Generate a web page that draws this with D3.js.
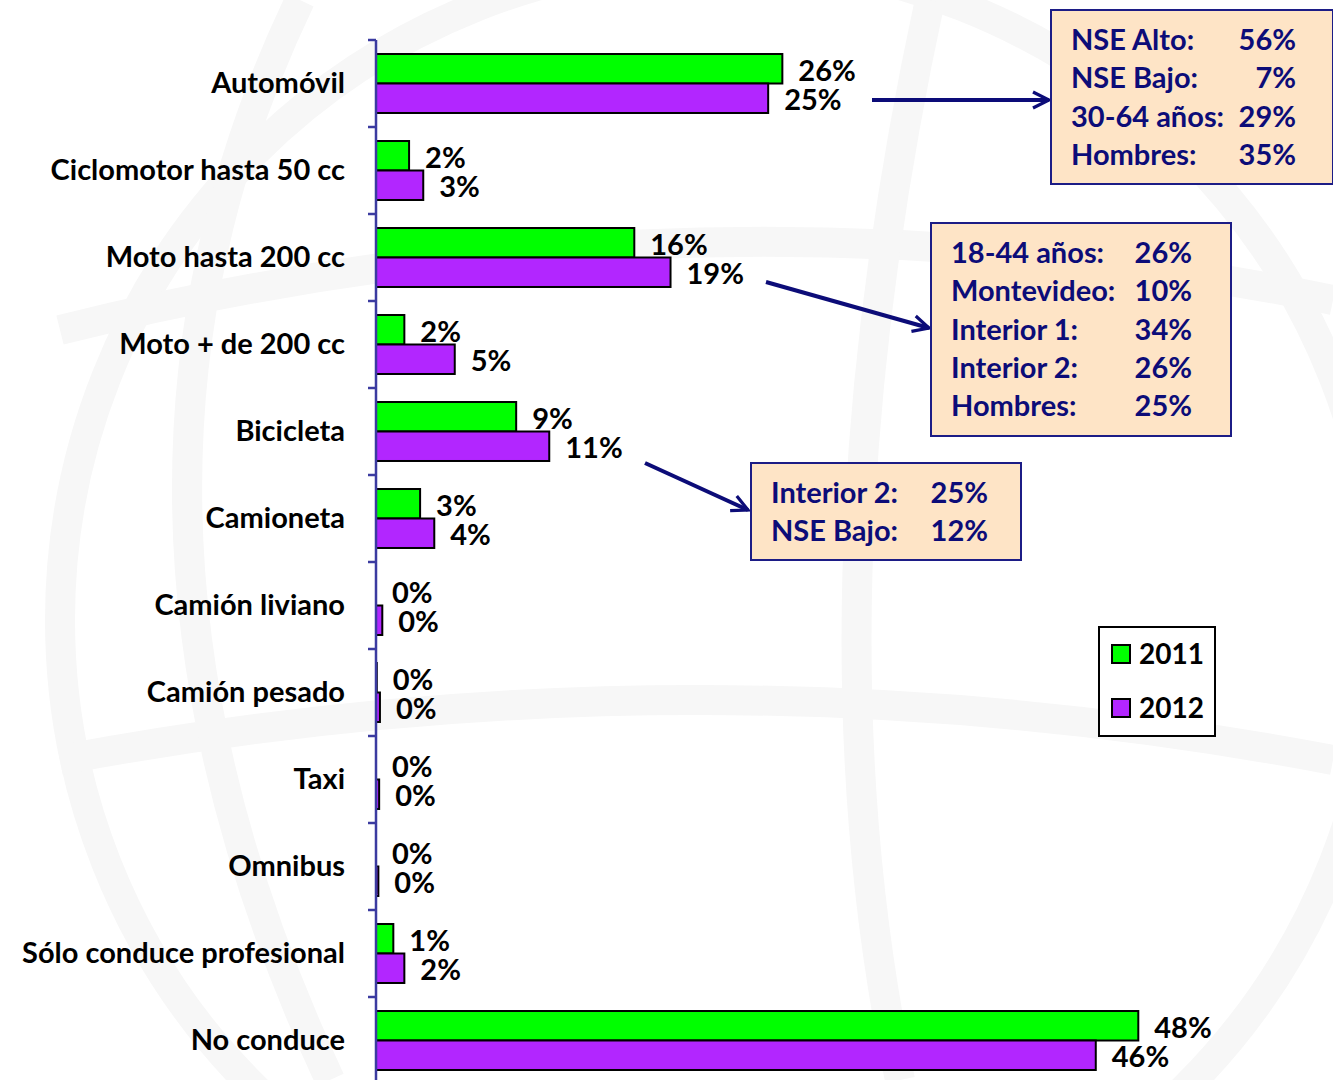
<!DOCTYPE html>
<html>
<head>
<meta charset="utf-8">
<script src="https://cdn.jsdelivr.net/npm/d3@7"></script>
<style>
  body { margin: 0; background: #fff; }
  svg { display: block; font-family: Lato, "Open Sans", sans-serif; font-weight: bold; }
</style>
</head>
<body>
<script>
// categories and values (percent)
var categories = ["Automóvil", "Ciclomotor hasta 50 cc", "Moto hasta 200 cc", "Moto + de 200 cc",
    "Bicicleta", "Camioneta", "Camión liviano", "Camión pesado", "Taxi", "Omnibus",
    "Sólo conduce profesional", "No conduce"];
var years = ["2011", "2012"];
var values2011 = [25.8, 2.1, 16.4, 1.8, 8.9, 2.8, 0, 0.05, 0, 0, 1.1, 48.4];
var values2012 = [24.9, 3.0, 18.7, 5.0, 11.0, 3.7, 0.4, 0.25, 0.2, 0.15, 1.8, 45.7];

// call-out boxes
var box1Labels = ["NSE Alto:", "NSE Bajo:", "30-64 años:", "Hombres:"];
var box1Values = ["56%", "7%", "29%", "35%"];
var box2Labels = ["18-44 años:", "Montevideo:", "Interior 1:", "Interior 2:", "Hombres:"];
var box2Values = ["26%", "10%", "34%", "26%", "25%"];
var box3Labels = ["Interior 2:", "NSE Bajo:"];
var box3Values = ["25%", "12%"];

var W = 1333, H = 1080;
var colors = {"2011": "#00ff00", "2012": "#b226ff"};
var navy = "#0c0c78";
var fontSize = 29;

var svg = d3.select("body").append("svg")
    .attr("width", W)
    .attr("height", H);

// faint globe watermark
var wm = svg.append("g").attr("fill", "none").attr("stroke", "#f7f7f7").attr("stroke-width", 30);
wm.append("circle").attr("cx", 720).attr("cy", 620).attr("r", 660);
wm.append("path").attr("d", "M 60 330 Q 700 170 1333 300");
wm.append("path").attr("d", "M 60 760 Q 700 640 1333 760");
wm.append("path").attr("d", "M 930 0 Q 800 600 900 1080");
wm.append("path").attr("d", "M 300 0 Q 60 500 330 1080");

// scales
var x = d3.scaleLinear()
    .domain([0, 60])
    .range([376, 376 + 945]);

var y = d3.scaleBand()
    .domain(categories)
    .range([40, 1084]);

var yInner = d3.scaleBand()
    .domain(years)
    .range([0, y.bandwidth()])
    .paddingOuter(0.475);

var rows = categories.map(function(c, i) {
    return {cat: c, vals: [
        {year: "2011", v: values2011[i]},
        {year: "2012", v: values2012[i]}
    ]};
});

var fmt = function(v) { return d3.format(".0f")(v) + "%"; };

var groups = svg.append("g").selectAll("g")
    .data(rows)
    .enter().append("g")
    .attr("transform", function(d) { return "translate(0," + y(d.cat) + ")"; });

groups.selectAll("rect")
    .data(function(d) { return d.vals.filter(function(e) { return e.v > 0; }); })
    .enter().append("rect")
    .attr("x", x(0))
    .attr("y", function(d) { return yInner(d.year); })
    .attr("width", function(d) { return x(d.v) - x(0); })
    .attr("height", yInner.bandwidth())
    .attr("fill", function(d) { return colors[d.year]; })
    .attr("stroke", "#000")
    .attr("stroke-width", 2);

groups.selectAll("text")
    .data(function(d) { return d.vals; })
    .enter().append("text")
    .attr("x", function(d) { return x(d.v) + 16; })
    .attr("y", function(d) { return yInner(d.year) + yInner.bandwidth() / 2 + 2; })
    .attr("dy", "0.35em")
    .attr("font-size", fontSize)
    .attr("fill", "#000")
    .text(function(d) { return fmt(d.v); });

// axis
var axis = svg.append("g")
    .attr("transform", "translate(" + x(0) + ",0)")
    .call(d3.axisLeft(y).tickSize(0).tickPadding(31));
axis.select(".domain").remove();
axis.selectAll("text")
    .attr("font-family", "Lato, sans-serif")
    .attr("font-weight", "bold")
    .attr("font-size", fontSize)
    .attr("fill", "#000");

var axisColor = "#3b3ba0";
svg.append("line")
    .attr("x1", x(0)).attr("x2", x(0))
    .attr("y1", y.range()[0]).attr("y2", H)
    .attr("stroke", axisColor).attr("stroke-width", 2.5);
svg.append("g").selectAll("line")
    .data(categories.concat(["end"]))
    .enter().append("line")
    .attr("x1", x(0) - 8).attr("x2", x(0))
    .attr("y1", function(d, i) { return y.range()[0] + i * y.step(); })
    .attr("y2", function(d, i) { return y.range()[0] + i * y.step(); })
    .attr("stroke", axisColor).attr("stroke-width", 2.5);

// arrows
var defs = svg.append("defs");
defs.append("marker")
    .attr("id", "arrow")
    .attr("viewBox", "0 0 10 10")
    .attr("refX", 9).attr("refY", 5)
    .attr("markerWidth", 5).attr("markerHeight", 5)
    .attr("orient", "auto")
    .append("path")
    .attr("d", "M1,1 L9,5 L1,9")
    .attr("fill", "none")
    .attr("stroke", navy)
    .attr("stroke-width", 1.6);

var arrows = [
    [872, 100, 1049, 100],
    [766, 282, 929, 328],
    [645, 463, 748, 510]
];
svg.append("g").selectAll("line")
    .data(arrows)
    .enter().append("line")
    .attr("x1", function(d) { return d[0]; })
    .attr("y1", function(d) { return d[1]; })
    .attr("x2", function(d) { return d[2]; })
    .attr("y2", function(d) { return d[3]; })
    .attr("stroke", navy)
    .attr("stroke-width", 4)
    .attr("marker-end", "url(#arrow)");

// call-out boxes
function callout(bx, by, bw, bh, labels, vals, lx, vx, anchor, y0, dy) {
    var g = svg.append("g");
    g.append("rect")
        .attr("x", bx).attr("y", by)
        .attr("width", bw).attr("height", bh)
        .attr("fill", "#fee4c6")
        .attr("stroke", "#1c1c86")
        .attr("stroke-width", 2);
    labels.forEach(function(l, i) {
        g.append("text")
            .attr("x", lx).attr("y", y0 + i * dy)
            .attr("dy", "0.35em")
            .attr("font-size", fontSize)
            .attr("fill", navy)
            .text(l);
        g.append("text")
            .attr("x", vx).attr("y", y0 + i * dy)
            .attr("dy", "0.35em")
            .attr("text-anchor", anchor)
            .attr("font-size", fontSize)
            .attr("fill", navy)
            .text(vals[i]);
    });
}
callout(1051, 10, 282, 174, box1Labels, box1Values, 1071, 1296, "end", 40, 38.3);
callout(931, 223, 300, 213, box2Labels, box2Values, 951, 1192, "end", 253, 38.3);
callout(751, 463, 270, 97, box3Labels, box3Values, 771, 988, "end", 493, 38);

// legend
var legend = svg.append("g");
legend.append("rect")
    .attr("x", 1099).attr("y", 627)
    .attr("width", 116).attr("height", 109)
    .attr("fill", "#fff")
    .attr("stroke", "#000")
    .attr("stroke-width", 2);
var li = legend.selectAll("g.item")
    .data(years)
    .enter().append("g")
    .attr("class", "item")
    .attr("transform", function(d, i) { return "translate(1112," + (654 + i * 54) + ")"; });
li.append("rect")
    .attr("x", 0).attr("y", -9)
    .attr("width", 18).attr("height", 18)
    .attr("fill", function(d) { return colors[d]; })
    .attr("stroke", "#000")
    .attr("stroke-width", 2);
li.append("text")
    .attr("x", 27).attr("y", 0)
    .attr("dy", "0.35em")
    .attr("font-size", 28)
    .attr("fill", "#000")
    .text(function(d) { return d; });
</script>
</body>
</html>
